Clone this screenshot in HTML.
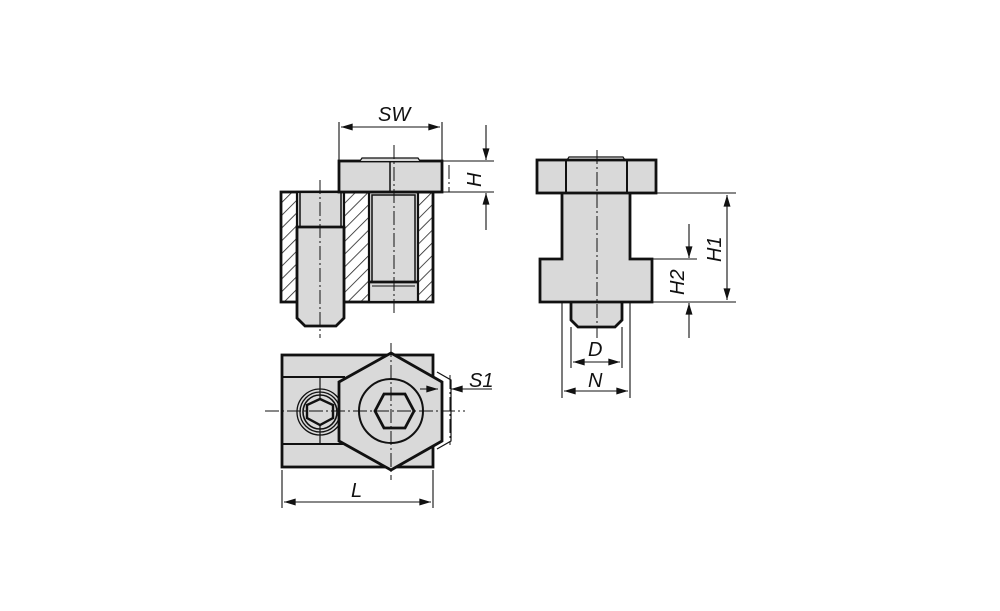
<!DOCTYPE html>
<html><head><meta charset="utf-8"><style>html,body{margin:0;padding:0;background:#fff}svg{display:block}text{font-family:"Liberation Sans",sans-serif;font-style:italic;font-size:20px;fill:#111}</style></head>
<body>
<svg width="1000" height="611" viewBox="0 0 1000 611" xmlns="http://www.w3.org/2000/svg">
<defs>
<pattern id="h" patternUnits="userSpaceOnUse" width="9" height="9" patternTransform="rotate(45)">
<rect width="9" height="9" fill="#fff"/><line x1="0" y1="0" x2="0" y2="9" stroke="#222" stroke-width="1.6"/>
</pattern>
<marker id="a" viewBox="0 0 10 6" refX="10" refY="3" markerWidth="15" markerHeight="7" orient="auto-start-reverse" markerUnits="userSpaceOnUse"><path d="M0,0L10,3L0,6z" fill="#111"/></marker>
</defs>
<g stroke="#111" fill="#d9d9d9">
<rect x="281" y="192" width="152" height="110" fill="url(#h)" stroke-width="2.8"/>
<rect x="297" y="192" width="47" height="110" stroke-width="2.2"/>
<path d="M297,227H344V318L336,326H305L297,318Z" stroke-width="2.8"/>
<line x1="300" y1="192" x2="300" y2="227" stroke-width="1.5"/>
<line x1="341" y1="192" x2="341" y2="227" stroke-width="1.5"/>
<rect x="369" y="192" width="49" height="110" stroke-width="2.2"/>
<rect x="372" y="195" width="43" height="87" stroke-width="1.5"/>
<line x1="369" y1="282" x2="418" y2="282" stroke-width="2.8"/>
<line x1="372" y1="286" x2="415" y2="286" stroke-width="1"/>
<rect x="339" y="161" width="103" height="31" stroke-width="2.8"/>
<path d="M360,161L362,158H418L420,161" stroke-width="1.2"/>
<line x1="390" y1="161" x2="390" y2="192" stroke-width="1.5"/>
<rect x="282" y="355" width="151" height="112" stroke-width="2.8"/>
<line x1="282" y1="377" x2="345" y2="377" stroke-width="2"/>
<line x1="282" y1="444" x2="345" y2="444" stroke-width="2"/>
<line x1="320" y1="377" x2="320" y2="444" stroke-width="1.2"/>
<circle cx="320" cy="412" r="23" fill="none" stroke-width="1.3"/>
<circle cx="320" cy="412" r="20" fill="none" stroke-width="1.3"/>
<circle cx="320" cy="412" r="17" fill="none" stroke-width="1.6"/>
<polygon points="320,399 333,405 333,418 320,425 307,418 307,405" stroke-width="2.4"/>
<path d="M437,372L451,380V441L437,449" fill="none" stroke-width="1.2"/>
<polygon points="391,353 442,382 442,441 391,470 339,441 339,382" stroke-width="2.8"/>
<circle cx="391" cy="411" r="32" fill="none" stroke-width="2"/>
<polygon points="375,411 384,394 405,394 414,411 405,428 384,428" fill="none" stroke-width="2.8"/>
<path d="M571,302V320L578,327H615L622,320V302" stroke-width="2.8"/>
<path d="M562,193V259H540V302H652V259H630V193" stroke-width="2.8"/>
<rect x="537" y="160" width="119" height="33" stroke-width="2.8"/>
<line x1="566" y1="160" x2="566" y2="193" stroke-width="2"/>
<line x1="627" y1="160" x2="627" y2="193" stroke-width="2"/>
<path d="M567,160L569,157H623L625,160" fill="none" stroke-width="1.2"/>
</g>
<g stroke="#111" stroke-width="1" fill="none" stroke-dasharray="14,3,2,3">
<line x1="320" y1="180" x2="320" y2="338"/>
<line x1="394" y1="145" x2="394" y2="313"/>
<line x1="449" y1="165" x2="449" y2="192"/>
<line x1="265" y1="411" x2="465" y2="411"/>
<line x1="391" y1="343" x2="391" y2="480"/>
<line x1="450" y1="375" x2="450" y2="445"/>
<line x1="597" y1="150" x2="597" y2="338"/>
</g>
<g stroke="#111" stroke-width="1.1" fill="none">
<line x1="339" y1="122" x2="339" y2="160"/><line x1="442" y1="122" x2="442" y2="160"/>
<line x1="341" y1="127" x2="440" y2="127" marker-start="url(#a)" marker-end="url(#a)"/>
<line x1="442" y1="161" x2="494" y2="161"/><line x1="433" y1="192" x2="494" y2="192"/>
<line x1="486" y1="125" x2="486" y2="160" marker-end="url(#a)"/>
<line x1="486" y1="230" x2="486" y2="193" marker-end="url(#a)"/>
<line x1="420" y1="389" x2="438" y2="389" marker-end="url(#a)"/>
<line x1="492" y1="389" x2="451" y2="389" marker-end="url(#a)"/>
<line x1="282" y1="470" x2="282" y2="508"/><line x1="433" y1="470" x2="433" y2="508"/>
<line x1="284" y1="502" x2="431" y2="502" marker-start="url(#a)" marker-end="url(#a)"/>
<line x1="656" y1="193" x2="736" y2="193"/><line x1="652" y1="302" x2="736" y2="302"/>
<line x1="652" y1="259" x2="697" y2="259"/>
<line x1="727" y1="195" x2="727" y2="300" marker-start="url(#a)" marker-end="url(#a)"/>
<line x1="689" y1="224" x2="689" y2="258" marker-end="url(#a)"/>
<line x1="689" y1="338" x2="689" y2="303" marker-end="url(#a)"/>
<line x1="571" y1="327" x2="571" y2="368"/><line x1="622" y1="327" x2="622" y2="368"/>
<line x1="573" y1="362" x2="620" y2="362" marker-start="url(#a)" marker-end="url(#a)"/>
<line x1="562" y1="302" x2="562" y2="398"/><line x1="630" y1="302" x2="630" y2="398"/>
<line x1="564" y1="391" x2="628" y2="391" marker-start="url(#a)" marker-end="url(#a)"/>
</g>
<text x="378" y="121">SW</text>
<text transform="translate(481,187) rotate(-90)">H</text>
<text x="469" y="387">S1</text>
<text x="351" y="497">L</text>
<text transform="translate(721,262) rotate(-90)">H1</text>
<text transform="translate(684,295) rotate(-90)">H2</text>
<text x="588" y="356">D</text>
<text x="588" y="387">N</text>
</svg>
</body></html>
